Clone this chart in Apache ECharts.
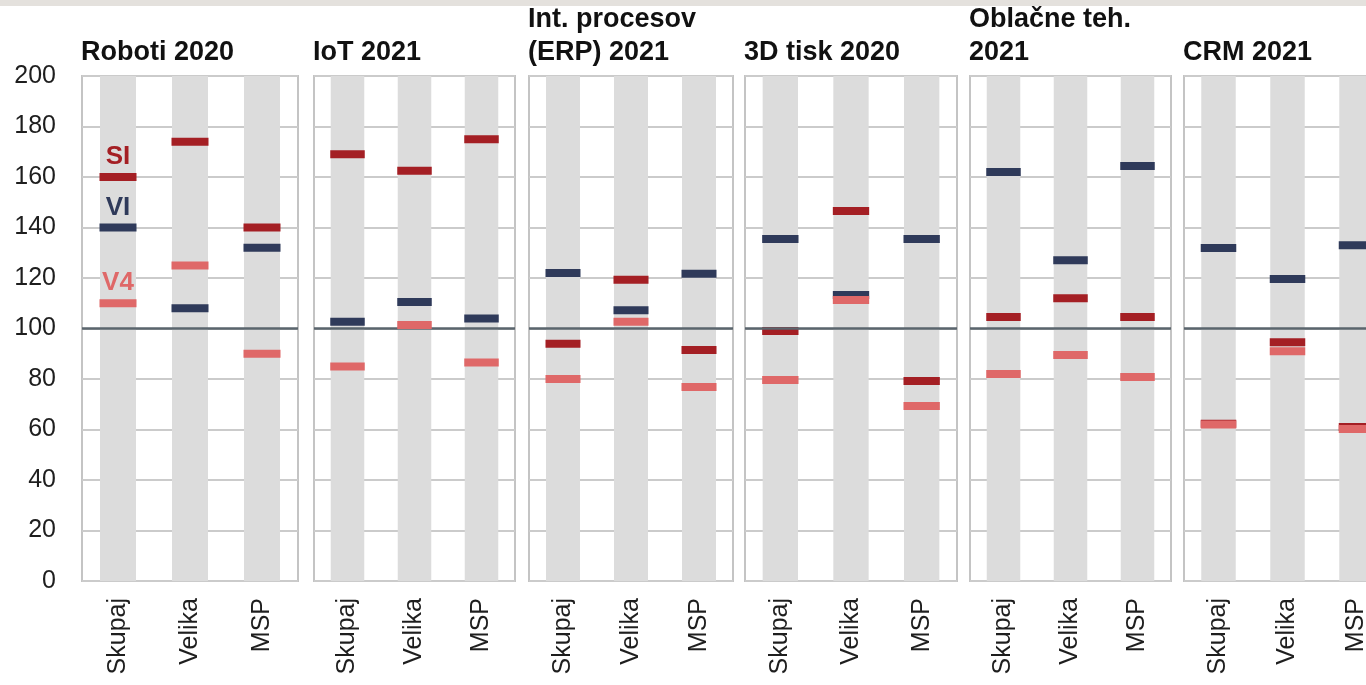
<!DOCTYPE html>
<html>
<head>
<meta charset="utf-8">
<title>Indeksi po panogah</title>
<script src="https://cdn.jsdelivr.net/npm/echarts@6/dist/echarts.min.js"></script>
<style>
    html, body { margin: 0; padding: 0; background: #fff; overflow: hidden; }
    /* canvas is a bit wider than the window: the last panel is cut off at the right edge */
    #chart { width: 1400px; height: 685px; }
</style>
</head>
<body>
<div id="chart"></div>
<script>
// data
var categories = ['Skupaj', 'Velika', 'MSP'];
var panelTitles = ['Roboti 2020', 'IoT 2021', 'Int. procesov\n(ERP) 2021', '3D tisk 2020', 'Oblačne teh.\n2021', 'CRM 2021'];
var seriesNames = ['SI', 'VI', 'V4'];
var siValues = [[160, 174, 140], [169, 162.5, 175], [94, 119.3, 91.5], [99, 146.5, 79.2], [104.6, 112, 104.6], [62.3, 94.6, 61]];
var viValues = [[140, 108, 132], [102.7, 110.5, 104], [122, 107.2, 121.7], [135.4, 113.3, 135.4], [162, 127, 164.4], [131.9, 119.6, 133]];
var v4Values = [[110, 125, 90], [85, 101.4, 86.5], [80, 102.7, 76.8], [79.6, 111.3, 69.3], [82, 89.5, 80.8], [62, 91, 60.2]];
var refValue = 100;
var yMin = 0;
var yMax = 200;
var yStep = 20;

// layout
var gridLefts = [82, 314, 529, 745, 970, 1184];
var gridWidths = [216, 201, 204, 212, 201, 207];
var gridTop = 76;
var gridHeight = 505;
var chartW = 1400;
var colors = { SI: '#a41f24', VI: '#2f3a5a', V4: '#df6868' };
var font = '"Liberation Sans", Arial, sans-serif';

var myChart = echarts.init(document.getElementById('chart'));

function buildOption() {
    var grids = [], xAxes = [], yAxes = [], series = [], titles = [];
    var valueSets = { SI: siValues, VI: viValues, V4: v4Values };

    for (var i = 0; i < panelTitles.length; i++) {
        grids.push({
            left: gridLefts[i],
            top: gridTop,
            width: gridWidths[i],
            height: gridHeight,
            show: true,
            borderColor: '#c4c4c4',
            borderWidth: 2,
            backgroundColor: 'transparent'
        });
        xAxes.push({
            type: 'category',
            gridIndex: i,
            data: categories,
            axisLine: { show: false },
            axisTick: { show: false },
            axisLabel: {
                rotate: 90,
                margin: 17,
                fontSize: 25,
                color: '#1e1e1e',
                fontFamily: font
            }
        });
        yAxes.push({
            type: 'value',
            gridIndex: i,
            min: yMin,
            max: yMax,
            interval: yStep,
            axisLine: { show: false },
            axisTick: { show: false },
            axisLabel: {
                show: i === 0,
                margin: 26,
                fontSize: 25,
                color: '#1e1e1e',
                fontFamily: font
            },
            splitLine: { lineStyle: { color: '#cbcbcb', width: 2 } }
        });
        titles.push({
            text: panelTitles[i],
            left: gridLefts[i] - 1,
            bottom: 685 - 69,
            padding: 0,
            textStyle: {
                fontSize: 27,
                fontWeight: 'bold',
                color: '#111',
                fontFamily: font,
                lineHeight: 33
            }
        });

        // gray column behind each category
        series.push({
            type: 'bar',
            xAxisIndex: i,
            yAxisIndex: i,
            data: [yMax, yMax, yMax],
            barWidth: '50%',
            itemStyle: { color: '#dcdcdc' },
            silent: true,
            z: 1
        });

        var markW = gridWidths[i] / categories.length * 0.5 + 1;
        for (var s = 0; s < seriesNames.length; s++) {
            var name = seriesNames[s];
            var vals = valueSets[name][i];
            var data = [];
            for (var k = 0; k < vals.length; k++) {
                var item = { value: [k, vals[k]] };
                if (i === 0 && k === 0) {
                    item.label = {
                        show: true,
                        position: 'top',
                        distance: 3,
                        formatter: name,
                        fontSize: 26,
                        fontWeight: 'bold',
                        color: colors[name],
                        fontFamily: font
                    };
                }
                data.push(item);
            }
            series.push({
                name: name,
                type: 'scatter',
                xAxisIndex: i,
                yAxisIndex: i,
                symbol: 'rect',
                symbolSize: [markW, 8],
                itemStyle: { color: colors[name], opacity: 1 },
                data: data,
                silent: true,
                z: 3 + s
            });
        }

        // reference line at 100
        series.push({
            type: 'line',
            xAxisIndex: i,
            yAxisIndex: i,
            data: [],
            silent: true,
            z: 10,
            markLine: {
                silent: true,
                symbol: 'none',
                label: { show: false },
                lineStyle: { color: '#5a656d', width: 2.5, type: 'solid' },
                data: [{ yAxis: refValue }]
            }
        });
    }

    return {
        backgroundColor: '#ffffff',
        animation: false,
        title: titles,
        grid: grids,
        xAxis: xAxes,
        yAxis: yAxes,
        series: series,
        graphic: [{
            type: 'rect',
            shape: { x: 0, y: 0, width: chartW, height: 6 },
            style: { fill: '#e4e1dd' },
            silent: true
        }]
    };
}

myChart.setOption(buildOption());
</script>
</body>
</html>
